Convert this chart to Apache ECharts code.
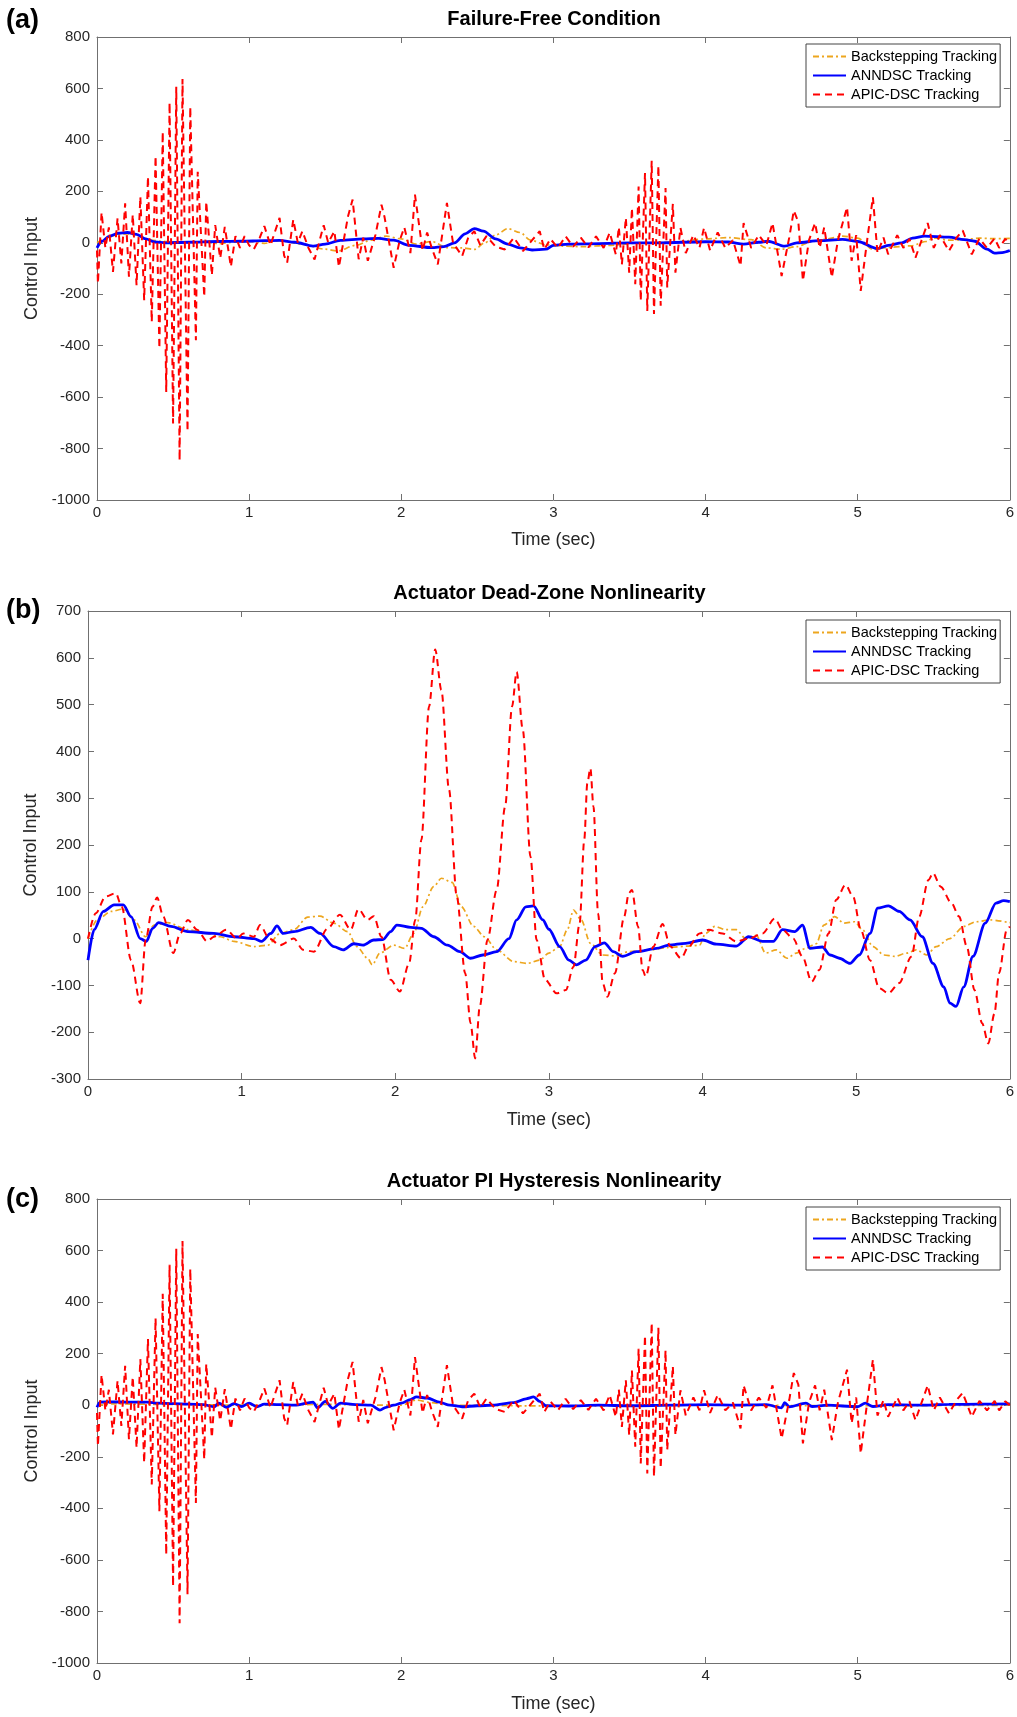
<!DOCTYPE html>
<html>
<head>
<meta charset="utf-8">
<title>Control Input</title>
<script src="https://cdn.jsdelivr.net/npm/echarts@6/dist/echarts.min.js"></script>
<style>
  html, body { margin: 0; padding: 0; background: #fff; }
  #chart { width: 1017px; height: 1717px; }
</style>
</head>
<body>
<div id="chart"></div>
<script>
(() => {
  const seriesNames = ["Backstepping Tracking", "ANNDSC Tracking", "APIC-DSC Tracking"];
  const panelTags = ["(a)", "(b)", "(c)"];
  const panelTitles = ["Failure-Free Condition", "Actuator Dead-Zone Nonlinearity", "Actuator PI Hysteresis Nonlinearity"];
  const timeRange = [0, 6, 1];
  const yRanges = [[-1000, 800, 200], [-300, 700, 100], [-1000, 800, 200]];

  // APIC-DSC, failure-free (same trace appears again in panel c)
  const apicFreeData = [
    [0.000, -30], [0.006, -158], [0.030, 118], [0.055, -20], [0.078, 60], [0.105, -113], [0.135, 95],
    [0.160, -80], [0.185, 153], [0.210, -132], [0.235, 110], [0.260, -165], [0.285, 179], [0.310, -223],
    [0.335, 257], [0.360, -307], [0.385, 337], [0.410, -411], [0.432, 432], [0.455, -580], [0.477, 545],
    [0.500, -703], [0.521, 607], [0.543, -846], [0.562, 637], [0.595, -733], [0.613, 529], [0.650, -379],
    [0.662, 276], [0.705, -210], [0.718, 160], [0.755, -126], [0.777, 69], [0.810, -60], [0.840, 62],
    [0.880, -93], [0.910, 26], [0.940, -20], [0.970, 26], [1.000, -10], [1.030, -26], [1.070, 20],
    [1.100, 65], [1.140, -10], [1.200, 97], [1.230, -50], [1.250, -77], [1.290, 90], [1.320, 0],
    [1.350, 45], [1.390, -20], [1.430, -65], [1.490, 68], [1.520, 0], [1.560, 45], [1.590, -94],
    [1.650, 103], [1.680, 168], [1.720, -64], [1.750, 20], [1.780, -70], [1.830, 30], [1.870, 148],
    [1.890, 100], [1.950, -97], [1.990, 10], [2.020, 60], [2.060, -40], [2.090, 187], [2.110, 100],
    [2.140, -30], [2.170, 40], [2.200, -20], [2.240, -84], [2.300, 155], [2.340, 0], [2.400, -52],
    [2.440, 20], [2.480, 45], [2.520, -10], [2.560, 26], [2.620, -15], [2.680, -26], [2.740, 20],
    [2.800, -32], [2.860, 10], [2.910, 45], [2.940, -26], [2.980, 15], [3.030, -20], [3.080, 25],
    [3.130, -15], [3.180, 20], [3.230, -18], [3.280, 25], [3.330, -20], [3.370, 40], [3.410, -45],
    [3.430, 61], [3.450, -84], [3.476, 97], [3.498, -116], [3.516, 135], [3.538, -161], [3.560, 219],
    [3.574, -226], [3.602, 271], [3.617, -265], [3.646, 319], [3.661, -277], [3.690, 300], [3.705, -245],
    [3.737, 213], [3.748, -174], [3.785, 151], [3.802, -116], [3.835, 58], [3.870, -40], [3.920, 30],
    [3.960, -20], [3.990, 58], [4.030, -30], [4.080, 40], [4.130, -20], [4.180, 10], [4.230, -90],
    [4.250, 77], [4.300, -20], [4.350, 30], [4.400, -10], [4.440, 77], [4.500, -129], [4.550, 20],
    [4.580, 125], [4.610, 80], [4.640, -148], [4.680, 10], [4.720, 77], [4.750, -20], [4.780, 60],
    [4.830, -135], [4.870, 10], [4.930, 138], [4.960, -70], [4.990, 30], [5.020, -187], [5.060, 0],
    [5.100, 177], [5.130, -40], [5.170, 20], [5.200, -45], [5.260, 30], [5.300, -20], [5.340, 15],
    [5.380, -58], [5.420, 10], [5.460, 77], [5.500, -20], [5.540, 30], [5.600, -32], [5.650, 20],
    [5.690, 48], [5.750, -45], [5.800, 17], [5.850, -20], [5.900, 17], [5.930, -20], [5.970, 15], [6.000, 0]
  ];

  const annFreeData = [
    [0, -20], [0.03, 5], [0.08, 25], [0.14, 37], [0.2, 40], [0.26, 33], [0.32, 15], [0.38, 3], [0.45, 0],
    [0.6, 2], [0.8, 5], [0.95, 6], [1.1, 8], [1.2, 9], [1.3, 2], [1.42, -13], [1.5, -5], [1.6, 9],
    [1.75, 15], [1.85, 17], [1.95, 10], [2.05, -10], [2.2, -19], [2.28, -15], [2.35, 0], [2.42, 35],
    [2.48, 55], [2.54, 45], [2.62, 15], [2.7, -5], [2.78, -20], [2.86, -28], [2.95, -25], [3.0, -10],
    [3.1, -5], [3.3, -3], [3.5, 0], [3.7, 0], [4.0, 4], [4.15, 3], [4.25, -5], [4.35, 2], [4.41, 6],
    [4.52, -13], [4.6, 0], [4.75, 8], [4.9, 13], [5.0, 5], [5.13, -23], [5.2, -10], [5.29, 0],
    [5.36, 18], [5.44, 26], [5.6, 22], [5.7, 12], [5.77, 6], [5.85, -25], [5.9, -40], [5.95, -38], [6.0, -30]
  ];

  const backFreeData = [
    [0, 0], [0.05, 15], [0.12, 30], [0.2, 35], [0.28, 28], [0.35, 10], [0.45, 5], [0.6, 0], [0.7, 4],
    [0.8, -3], [0.9, 2], [1.0, 5], [1.1, -2], [1.2, 8], [1.35, -5], [1.5, -25], [1.58, -32], [1.7, -10],
    [1.8, 10], [1.9, 26], [2.0, 15], [2.1, -5], [2.2, 5], [2.3, -19], [2.4, -20], [2.48, -26], [2.55, 0],
    [2.62, 30], [2.7, 55], [2.78, 40], [2.85, 10], [2.95, -8], [3.05, -13], [3.2, -15], [3.35, -10],
    [3.6, 0], [3.8, 3], [4.0, 15], [4.15, 20], [4.3, 12], [4.4, -20], [4.5, -25], [4.6, -15], [4.7, 5],
    [4.8, 15], [4.9, 26], [5.0, 18], [5.1, -26], [5.2, -18], [5.35, -12], [5.45, 5], [5.5, 19],
    [5.6, 10], [5.7, 12], [5.8, 18], [5.9, 16], [6.0, 17]
  ];

  const apicDeadData = [
    [0, 0], [0.05, 54], [0.115, 90], [0.18, 97], [0.22, 68], [0.28, -46], [0.34, -138], [0.375, -3],
    [0.42, 68], [0.45, 88], [0.49, 47], [0.555, -31], [0.6, 11], [0.65, 40], [0.71, 19], [0.775, -6],
    [0.82, 4], [0.9, 19], [0.97, 0], [1.01, 11], [1.08, 4], [1.12, 29], [1.18, 0], [1.25, -14],
    [1.34, 0], [1.4, -24], [1.47, -28], [1.56, 22], [1.64, 51], [1.71, 19], [1.76, 63], [1.82, 40],
    [1.86, 48], [1.91, 4], [1.97, -88], [2.03, -113], [2.09, -53], [2.13, 40], [2.17, 211], [2.22, 496],
    [2.26, 618], [2.3, 531], [2.35, 318], [2.4, 90], [2.455, -74], [2.49, -181], [2.52, -256],
    [2.55, -145], [2.6, -3], [2.66, 104], [2.715, 282], [2.76, 496], [2.79, 570], [2.83, 446],
    [2.88, 175], [2.92, -3], [2.975, -88], [3.05, -117], [3.11, -110], [3.16, -60], [3.2, 33],
    [3.23, 211], [3.25, 332], [3.27, 364], [3.29, 282], [3.32, 54], [3.35, -95], [3.38, -124],
    [3.43, -74], [3.49, 47], [3.52, 97], [3.54, 104], [3.58, 26], [3.61, -67], [3.63, -81], [3.68, -17],
    [3.74, 31], [3.79, -17], [3.86, -42], [3.91, -17], [3.98, 11], [4.04, 19], [4.13, 11], [4.22, -6],
    [4.3, 0], [4.39, 11], [4.47, 43], [4.52, 19], [4.59, 0], [4.65, -38], [4.71, -92], [4.76, -67],
    [4.82, 11], [4.87, 83], [4.93, 115], [4.98, 90], [5.03, 19], [5.09, -46], [5.15, -106], [5.21, -117],
    [5.28, -95], [5.36, -38], [5.41, 47], [5.47, 125], [5.5, 140], [5.55, 111], [5.62, 76], [5.67, 47],
    [5.72, -17], [5.77, -110], [5.82, -181], [5.86, -224], [5.9, -160], [5.93, -74], [5.98, 19], [6.0, 26]
  ];

  const annDeadData = [
    [0, -46], [0.04, 19], [0.1, 58], [0.17, 72], [0.23, 72], [0.28, 47], [0.34, 0], [0.38, -6],
    [0.42, 22], [0.46, 34], [0.54, 26], [0.65, 15], [0.82, 11], [0.95, 4], [1.08, 0], [1.13, -6],
    [1.19, 11], [1.23, 27], [1.27, 11], [1.34, 15], [1.45, 24], [1.51, 11], [1.6, -17], [1.66, -24],
    [1.73, -11], [1.79, -14], [1.86, -3], [1.92, -2], [1.97, 15], [2.01, 29], [2.1, 24], [2.17, 22],
    [2.25, 4], [2.34, -14], [2.42, -28], [2.49, -42], [2.57, -35], [2.66, -28], [2.74, 0], [2.79, 40],
    [2.85, 68], [2.9, 70], [2.96, 40], [3.0, 20], [3.07, -17], [3.13, -46], [3.18, -56], [3.24, -46],
    [3.3, -17], [3.36, -9], [3.42, -28], [3.48, -38], [3.57, -28], [3.7, -21], [3.78, -14], [3.89, -10],
    [4.0, -3], [4.09, -12], [4.22, -16], [4.3, 4], [4.39, -6], [4.46, -6], [4.52, 19], [4.6, 15],
    [4.65, 29], [4.7, -21], [4.78, -18], [4.83, -35], [4.89, -42], [4.96, -53], [5.02, -35], [5.09, 11],
    [5.14, 65], [5.21, 70], [5.28, 58], [5.35, 40], [5.43, 4], [5.5, -53], [5.57, -103], [5.61, -138],
    [5.65, -145], [5.7, -103], [5.76, -38], [5.84, 33], [5.91, 76], [5.96, 81], [6.0, 79]
  ];

  const backDeadData = [
    [0, 0], [0.06, 40], [0.15, 58], [0.23, 63], [0.3, 40], [0.375, 4], [0.43, 29], [0.52, 34],
    [0.65, 19], [0.78, 11], [0.86, 4], [0.95, -6], [1.08, -17], [1.17, -14], [1.25, 11], [1.34, 19],
    [1.43, 46], [1.51, 48], [1.6, 33], [1.69, 15], [1.75, -17], [1.82, -42], [1.85, -56], [1.9, -31],
    [1.99, -14], [2.06, -21], [2.12, 11], [2.18, 68], [2.25, 111], [2.3, 129], [2.37, 120], [2.43, 68],
    [2.51, 26], [2.58, 4], [2.66, -24], [2.77, -49], [2.86, -53], [2.94, -46], [3.0, -31], [3.07, -17],
    [3.12, 19], [3.16, 61], [3.21, 40], [3.27, -10], [3.35, -35], [3.43, -37], [3.52, -28], [3.65, -24],
    [3.78, -19], [3.91, -16], [3.98, -14], [4.02, 11], [4.08, 26], [4.15, 19], [4.22, 19], [4.28, 0],
    [4.35, 7], [4.41, -31], [4.48, -24], [4.55, -42], [4.61, -31], [4.67, -21], [4.74, -11], [4.79, 29],
    [4.86, 47], [4.92, 33], [4.99, 36], [5.04, 19], [5.11, -17], [5.18, -35], [5.25, -38], [5.33, -31],
    [5.39, -24], [5.46, -35], [5.52, -17], [5.61, 0], [5.7, 26], [5.78, 36], [5.87, 40], [6.0, 34]
  ];

  const apicHystData = apicFreeData;

  const annHystData = [
    [0, -8], [0.02, 12], [0.1, 13], [0.2, 12], [0.33, 12], [0.4, 8], [0.5, 6], [0.6, 4], [0.7, 2],
    [0.77, -6], [0.8, 8], [0.85, -8], [0.9, 6], [0.95, -5], [1.0, 8], [1.05, -6], [1.1, 4], [1.2, 2],
    [1.3, 0], [1.42, 12], [1.45, -10], [1.5, 15], [1.55, -12], [1.6, 8], [1.7, 2], [1.8, 0], [1.86, -19],
    [1.9, -8], [1.95, 0], [2.0, 8], [2.06, 22], [2.1, 32], [2.17, 28], [2.25, 12], [2.32, 0], [2.4, -6],
    [2.5, -2], [2.6, 0], [2.74, 10], [2.82, 25], [2.87, 32], [2.91, 15], [2.95, -2], [3.1, -3], [3.3, 0],
    [3.5, -2], [3.8, 0], [4.0, 2], [4.2, 0], [4.4, 2], [4.5, -10], [4.52, 10], [4.55, -6], [4.66, 8],
    [4.7, -5], [4.8, 0], [5.0, -6], [5.05, 8], [5.1, -5], [5.2, 2], [5.4, 0], [5.6, 3], [5.8, 4], [6.0, 5]
  ];

  const backHystData = [
    [0, 0], [0.1, 5], [0.5, 3], [1.0, 0], [1.5, 3], [2.0, 0], [2.1, 20], [2.2, 10], [2.3, 0],
    [3.0, -3], [4.0, 0], [5.0, -2], [6.0, 0]
  ];

  const panelData = [
    [backFreeData, annFreeData, apicFreeData],
    [backDeadData, annDeadData, apicDeadData],
    [backHystData, annHystData, apicHystData]
  ];

  const font = "Liberation Sans, Arial, Helvetica, sans-serif";
  const axisColor = "#707070";
  const textColor = "#262626";
  const grids = [
    { left: 97, top: 37, width: 914, height: 463, nameGap: 47, tagY: 21 },
    { left: 88, top: 611, width: 923, height: 468, nameGap: 38, tagY: 611 },
    { left: 97, top: 1199, width: 914, height: 464, nameGap: 47, tagY: 1200 }
  ];
  const legendTops = [44, 620, 1207];

  const lineStyles = [
    { color: "#EDA61E", width: 1.7, type: [6, 3, 2, 3] },
    { color: "#0000FF", width: 2.8, type: "solid" },
    { color: "#FF0000", width: 2, type: [7, 5] }
  ];

  const xAxes = [];
  const yAxes = [];
  const series = [];
  const legends = [];
  const graphics = [];

  grids.forEach((g, i) => {
    const [yMin, yMax, yStep] = yRanges[i];
    const frame = {
      axisLine: { show: true, onZero: false, lineStyle: { color: axisColor, width: 1 } },
      axisTick: { show: true, inside: true, length: 6, lineStyle: { color: axisColor } },
      splitLine: { show: false }
    };
    xAxes.push({
      type: "value", gridIndex: i, min: timeRange[0], max: timeRange[1], interval: timeRange[2],
      position: "bottom", ...frame,
      axisLabel: { color: textColor, fontSize: 15, fontFamily: font, margin: 5 },
      name: "Time (sec)", nameLocation: "middle", nameGap: i === 0 ? 31 : 32,
      nameTextStyle: { color: textColor, fontSize: 18, fontFamily: font }
    });
    xAxes.push({
      type: "value", gridIndex: i, min: timeRange[0], max: timeRange[1], interval: timeRange[2],
      position: "top", ...frame, axisLabel: { show: false }
    });
    yAxes.push({
      type: "value", gridIndex: i, min: yMin, max: yMax, interval: yStep,
      position: "left", ...frame,
      axisLabel: { color: textColor, fontSize: 15, fontFamily: font, margin: 7, formatter: (v) => String(v) },
      name: "Control Input", nameLocation: "middle", nameGap: g.nameGap,
      nameTextStyle: { color: textColor, fontSize: 18, fontFamily: font }
    });
    yAxes.push({
      type: "value", gridIndex: i, min: yMin, max: yMax, interval: yStep,
      position: "right", ...frame, axisLabel: { show: false }
    });

    // red first so the solid and dash-dot traces sit on top of it
    [2, 0, 1].forEach((k) => {
      const smoothTrace = k !== 2 || i === 1;
      series.push({
        name: seriesNames[k],
        type: "line",
        xAxisIndex: i * 2,
        yAxisIndex: i * 2,
        data: panelData[i][k],
        symbol: "none",
        showSymbol: false,
        smooth: smoothTrace ? 0.3 : false,
        smoothMonotone: "x",
        animation: false,
        z: 2 + k,
        lineStyle: lineStyles[k],
        itemStyle: { color: lineStyles[k].color }
      });
    });

    legends.push({
      data: seriesNames,
      orient: "vertical",
      left: 806,
      top: legendTops[i],
      itemWidth: 33,
      itemHeight: 14,
      itemGap: 4,
      padding: [5, 3, 5, 6],
      backgroundColor: "#fff",
      borderColor: "#444",
      borderWidth: 1,
      borderRadius: 0,
      selectedMode: false,
      itemStyle: { opacity: 0 },
      textStyle: { color: "#000", fontSize: 14.5, fontFamily: font }
    });

    graphics.push({
      type: "text",
      x: 6,
      y: g.tagY,
      style: { text: panelTags[i], fill: "#000", font: "bold 27px " + font, textVerticalAlign: "middle" }
    });
    graphics.push({
      type: "text",
      x: g.left + g.width / 2,
      y: g.top - 18,
      style: {
        text: panelTitles[i], fill: "#000", font: "bold 20px " + font,
        textAlign: "center", textVerticalAlign: "middle"
      }
    });
  });

  const chart = echarts.init(document.getElementById("chart"), null, { renderer: "canvas" });
  chart.setOption({
    backgroundColor: "#fff",
    animation: false,
    grid: grids.map((g) => ({ left: g.left, top: g.top, width: g.width, height: g.height })),
    xAxis: xAxes,
    yAxis: yAxes,
    legend: legends,
    series: series,
    graphic: graphics
  });
})();
</script>
</body>
</html>
